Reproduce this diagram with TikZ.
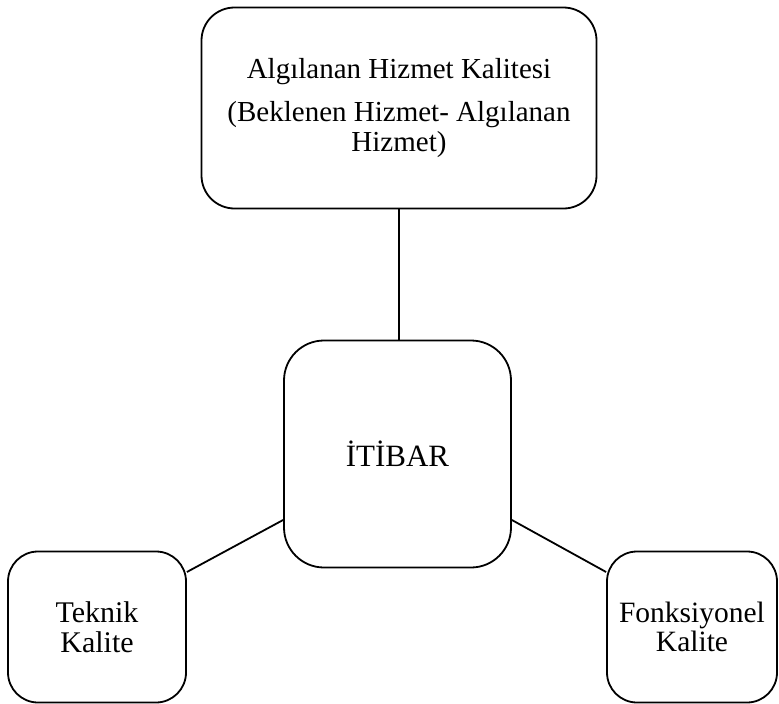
\documentclass[tikz,border=0pt]{standalone}
\usepackage{fontspec}
\setmainfont{Liberation Serif}
\begin{document}
\begin{tikzpicture}[x=1pt,y=-1pt,
  box/.style={draw=black, line width=1.8pt, rounded corners=#1, align=center, inner sep=0pt},
  link/.style={draw=black, line width=1.8pt}]
\useasboundingbox (0,0) rectangle (779,704);
\node[box=33pt, minimum width=395pt, minimum height=201pt, font=\fontsize{29pt}{29.5pt}\selectfont] (top) at (399,108)
  {Algılanan Hizmet Kalitesi\\[14pt](Beklenen Hizmet- Algılanan\\Hizmet)};
\node[box=40pt, minimum width=227pt, minimum height=227pt, font=\fontsize{31pt}{28pt}\selectfont] (ctr) at (397.5,454) {\raisebox{-3pt}{İTİBAR}};
\node[box=30pt, minimum width=178pt, minimum height=151pt, font=\fontsize{30pt}{29.5pt}\selectfont] (lft) at (97,627) {Teknik\\Kalite};
\node[box=30pt, minimum width=170pt, minimum height=151pt, font=\fontsize{29.5pt}{29.5pt}\selectfont] (rgt) at (692,627) {Fonksiyonel\\Kalite};
\draw[link] (top.south) -- (top.south |- ctr.north);
\draw[link] ([yshift=-66pt]ctr.west) -- ([yshift=55pt]lft.east);
\draw[link] ([yshift=-66pt]ctr.east) -- ([yshift=55pt]rgt.west);
\end{tikzpicture}
\end{document}
